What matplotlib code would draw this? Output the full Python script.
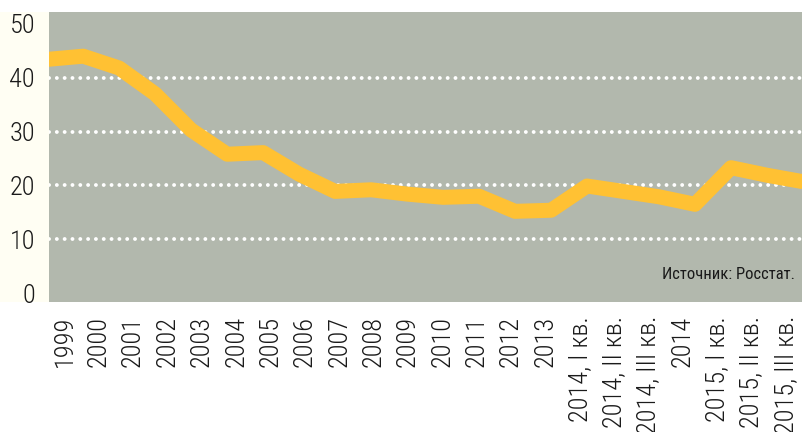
import matplotlib
matplotlib.use("Agg")
import matplotlib.pyplot as plt
from matplotlib.patches import Rectangle

categories = ["1999", "2000", "2001", "2002", "2003", "2004", "2005", "2006",
              "2007", "2008", "2009", "2010", "2011", "2012", "2013",
              "2014, I кв.", "2014, II кв.", "2014, III кв.", "2014",
              "2015, I кв.", "2015, II кв.", "2015, III кв."]
values = [43.4, 44.0, 41.8, 37.0, 30.3, 25.8, 26.1, 22.1,
          18.9, 19.2, 18.4, 17.8, 18.0, 15.2, 15.4,
          19.9, 18.9, 17.9, 16.5, 23.3, 21.9, 20.7]
yticks = [0, 10, 20, 30, 40, 50]
grid_levels = [10, 20, 30, 40]
source = "Источник: Росстат."

FONT = ["Roboto Condensed", "PT Sans Narrow", "IBM Plex Sans Condensed", "DejaVu Sans"]
plt.rcParams["font.family"] = FONT

W, H = 803, 432
fig = plt.figure(figsize=(W / 100, H / 100), dpi=100)
fig.patch.set_facecolor("white")

L, R, T, B = 49, 803, 12, 302
ax = fig.add_axes([L / W, (H - B) / H, (R - L) / W, (B - T) / H])
ax.set_zorder(2)
ax.set_facecolor("#b2b8ad")

# light yellow band behind y labels
fig.patches.append(Rectangle((0, (H - B) / H), L / W, (B - T) / H,
                             transform=fig.transFigure, facecolor="#fffef3",
                             edgecolor="none", zorder=0))

n = len(values)
xs = list(range(n))
ax.set_xlim(0.05, n - 1)
ax.set_ylim(-1.63, 52.2)

for g in grid_levels:
    ax.axhline(g, color="white", linewidth=2.8, linestyle=(0, (0.01, 2.0)),
               dash_capstyle="round", zorder=1)

ax.plot(xs, values, color="#ffc133", linewidth=10.8, solid_joinstyle="round",
        solid_capstyle="butt", zorder=3, clip_on=True)

span = n - 1
tickpos = [(i + 0.5) * span / n for i in range(n)]
ax.set_xticks(tickpos)
ax.set_xticklabels(categories, rotation=90, fontsize=19, color="#1a1a1a",
                   va="top", ha="center", fontweight="light")
ax.set_yticks(yticks)
ax.set_yticklabels([str(v) for v in yticks], fontsize=19, color="#1a1a1a",
                   fontweight="light")
ax.tick_params(axis="both", length=0)
ax.tick_params(axis="x", pad=10)
ax.tick_params(axis="y", pad=10)
for s in ax.spines.values():
    s.set_visible(False)

ax.text(0.99, 0.095, source, transform=ax.transAxes, ha="right", va="center",
        fontsize=12, color="#1a1a1a", fontweight="normal", zorder=4)

fig.savefig("out.png", dpi=100, facecolor=fig.get_facecolor())
